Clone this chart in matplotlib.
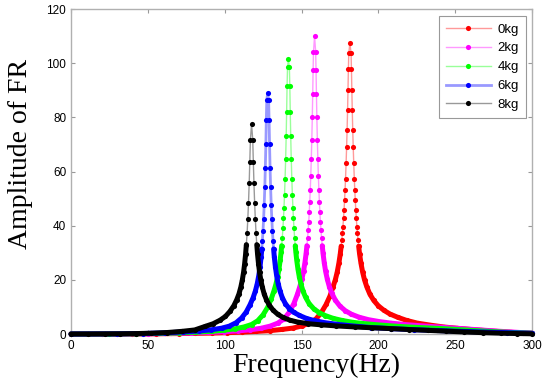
import numpy as np
import matplotlib
matplotlib.use('Agg')
import matplotlib.pyplot as plt
from matplotlib.colors import to_rgb

# --- values (frequency in Hz, amplitude of FR) ---
red_freq = [0, 20, 40, 55, 70, 81, 91.5, 101.5, 111.5, 120.5, 129.5, 137.5, 144.5, 150.5, 155.5, 159.5,
            163, 166, 168.5,
            170.5, 172.0, 173.2, 174.3, 175.2, 175.8, 176.22, 176.62, 176.96, 177.34, 177.68, 178.03,
            178.32, 178.65, 179.01, 179.35, 179.66, 179.98, 180.25, 180.5, 180.75,
            181.5,
            182.25, 182.5, 182.75, 183.02, 183.34, 183.65, 183.99, 184.35, 184.68, 184.97, 185.32,
            185.66, 186.04, 186.38, 186.78, 187.2, 187.8, 188.7, 189.8, 191.0, 192.5,
            194.5, 197, 200, 203.5, 207.5, 212.5, 218.5, 225.5, 233.5, 242.5, 251.5, 261.5, 271.5,
            281.5, 290, 300]
red_amp = [0.0, 0.01, 0.04, 0.08, 0.16, 0.25, 0.35, 0.5, 0.7, 0.95, 1.25, 1.7, 2.2, 3.0, 4.1, 5.6,
           8.0, 10.9, 14.0,
           17.4, 20.0, 22.8, 26.1, 29.5, 32.4, 34.7, 37.2, 39.6, 42.7, 45.8, 49.5,
           53.0, 57.4, 63.0, 69.0, 75.2, 82.7, 90.1, 97.7, 103.6,
           107.5,
           103.6, 97.7, 90.1, 82.7, 75.2, 69.0, 63.0, 57.4, 53.0, 49.5, 45.8,
           42.7, 39.6, 37.2, 34.7, 32.4, 29.5, 26.1, 22.8, 20.0, 17.4,
           14.7, 12.4, 10.4, 8.8, 7.4, 6.2, 5.0, 4.0, 3.3, 2.6, 2.1, 1.6, 1.2,
           0.8, 0.5, 0.25]

mag_freq = [0, 30, 50, 65, 78, 89, 99.5, 108.5, 116.5, 123.5, 129.5, 134.5, 138.5, 142, 145, 147.3,
            148.9, 150.2, 151.3, 152.2, 153.0, 153.5, 153.93, 154.34, 154.7, 155.06, 155.37, 155.69,
            156.03, 156.36, 156.7, 157.02, 157.28, 157.55, 157.78,
            158.5,
            159.22, 159.45, 159.72, 159.98, 160.3, 160.64, 160.97, 161.31, 161.63, 161.94, 162.3,
            162.66, 163.07, 163.5, 164.0, 164.8, 165.7, 166.8, 168.1,
            169.7, 172, 175, 178.5, 182.5, 187.5, 193.5, 200.5, 208.5, 217.5, 226.5, 236.5, 246.5,
            256.5, 266.5, 276.5, 286.5, 294, 300]
mag_amp = [0.0, 0.03, 0.1, 0.22, 0.4, 0.6, 0.85, 1.15, 1.55, 2.1, 2.9, 4.0, 5.5, 8.0, 11.2, 14.6,
           17.5, 20.2, 23.1, 26.3, 29.8, 32.6, 35.3, 38.4, 41.5, 45.2, 48.8, 53.1,
           58.4, 64.5, 71.8, 80.0, 88.5, 97.4, 104.0,
           110.0,
           104.0, 97.4, 88.5, 80.0, 71.8, 64.5, 58.4, 53.1, 48.8, 45.2, 41.5,
           38.4, 35.3, 32.6, 29.8, 26.3, 23.1, 20.2, 17.5,
           15.1, 12.5, 10.3, 8.6, 7.3, 6.2, 5.3, 4.6, 4.0, 3.5, 3.1, 2.7, 2.3,
           1.9, 1.5, 1.1, 0.75, 0.5, 0.35]

grn_freq = [0, 25, 42, 57, 70, 81.5, 91.5, 99.5, 106.5, 112.5, 117.5, 121.5, 125, 128, 130.3,
            132.0, 133.3, 134.4, 135.3, 136.1, 136.7, 137.08, 137.46, 137.9, 138.27, 138.58, 138.95,
            139.31, 139.69, 140.02, 140.32, 140.6, 140.9,
            141.5,
            142.1, 142.4, 142.68, 142.98, 143.31, 143.69, 144.05, 144.42, 144.73, 145.1, 145.54,
            145.92, 146.3, 146.9, 147.7, 148.6, 149.7, 151.0,
            152.7, 155, 158, 161.5, 165.5, 170.5, 176.5, 183.5, 191.5, 201.5, 213.5, 226.5, 241.5,
            256.5, 271.5, 285, 300]
grn_amp = [0.0, 0.02, 0.09, 0.22, 0.42, 0.7, 1.0, 1.4, 1.9, 2.6, 3.5, 4.9, 7.1, 9.9, 13.0,
           15.8, 18.3, 21.0, 23.9, 27.2, 30.3, 32.6, 35.3, 39.0, 42.7, 46.4, 51.4,
           57.4, 64.8, 73.0, 82.0, 91.4, 98.5,
           101.5,
           98.5, 91.4, 82.0, 73.0, 64.8, 57.4, 51.4, 46.4, 42.7, 39.0, 35.3,
           32.6, 30.3, 27.2, 23.9, 21.0, 18.3, 15.8,
           13.5, 11.2, 9.3, 7.9, 6.8, 5.8, 5.0, 4.3, 3.8, 3.3, 2.8, 2.4, 2.0,
           1.5, 1.0, 0.6, 0.3]

blu_freq = [0, 30, 47, 61, 73, 83, 91, 98, 103, 107.5, 111, 114, 116.5,
            118.5, 120.0, 121.2, 122.2, 123.0, 123.7, 124.15, 124.55, 124.95, 125.33, 125.71, 126.11,
            126.45, 126.8, 127.1, 127.4,
            128.0,
            128.6, 128.9, 129.2, 129.55, 129.89, 130.29, 130.67, 131.05, 131.45, 131.85, 132.3,
            133.0, 133.8, 134.8, 136.0, 137.5,
            139.5, 142, 145, 148.5, 153, 158, 165, 173, 183, 195, 208, 223, 238, 253, 268, 284, 300]
blu_amp = [0.0, 0.05, 0.18, 0.42, 0.75, 1.1, 1.55, 2.15, 2.9, 4.2, 5.9, 8.1, 10.8,
           13.4, 15.9, 18.6, 21.6, 24.8, 28.4, 31.4, 34.5, 38.2, 42.5, 47.6, 54.1,
           61.3, 70.1, 79.2, 86.4,
           89.0,
           86.4, 79.2, 70.1, 61.3, 54.1, 47.6, 42.5, 38.2, 34.5, 31.4, 28.4,
           24.8, 21.6, 18.6, 15.9, 13.4,
           11.2, 9.4, 8.0, 6.9, 5.8, 5.0, 4.2, 3.6, 3.0, 2.4, 2.0, 1.6, 1.3, 1.0, 0.75, 0.5, 0.25]

blk_freq = [0, 11, 22, 32, 42, 52, 62.5, 72.5, 80.5, 87.5, 92.5, 97, 100.5, 103.5, 106,
            107.8, 109.3, 110.5, 111.5, 112.3, 113.0, 113.6, 114.1, 114.58, 115.06, 115.5, 115.95,
            116.35, 116.75,
            117.5,
            118.25, 118.65, 119.05, 119.5, 119.94, 120.42, 120.9, 121.4, 122.0, 122.7, 123.5,
            124.5, 125.7, 127.2,
            129, 131.5, 134.5, 138, 142.5, 147.5, 154.5, 162.5, 172.5, 185, 196, 208, 220, 232,
            244, 256, 268, 280, 290, 300]
blk_amp = [0.0, 0.01, 0.04, 0.08, 0.16, 0.3, 0.55, 1.0, 1.5, 2.85, 3.8, 5.1, 6.5, 8.4, 10.5,
           12.6, 14.8, 17.3, 20.0, 22.8, 26.0, 29.4, 33.0, 37.2, 42.5, 48.4, 55.6,
           63.6, 71.8,
           77.5,
           71.8, 63.6, 55.6, 48.4, 42.5, 37.2, 33.0, 29.4, 26.0, 22.8, 20.0,
           17.3, 14.8, 12.6,
           10.7, 8.8, 7.3, 6.1, 5.1, 4.4, 3.8, 3.4, 3.0, 2.6, 2.3, 2.0, 1.65, 1.35,
           1.05, 0.75, 0.5, 0.3, 0.18, 0.08]

labels = ['0kg', '2kg', '4kg', '6kg', '8kg']
colors = ['#ff0000', '#ff00ff', '#00ff00', '#0000ff', '#000000']

BAND_MAX = 33.5   # below this the dots merge into a solid band


def draw_series(ax, freq, amp, color, label, thin_lw, z):
    freq = np.asarray(freq, dtype=float)
    amp = np.asarray(amp, dtype=float)
    band = np.where(amp <= BAND_MAX, amp, np.nan)
    ax.plot(freq, band, color=color, lw=3.6, solid_capstyle='round',
            solid_joinstyle='round', clip_on=False, zorder=z)
    ax.plot(freq, amp, color=(*to_rgb(color), 0.4), lw=thin_lw, marker='o', ms=3.7,
            mfc=color, mec=color, mew=0, label=label, clip_on=False, zorder=z + 0.1)


plt.rcParams['font.family'] = ['Liberation Sans', 'DejaVu Sans']

fig = plt.figure(figsize=(5.5, 3.83), dpi=100)
ax = fig.add_axes([0.1291, 0.1279, 0.8382, 0.8486])

all_data = [(red_freq, red_amp), (mag_freq, mag_amp), (grn_freq, grn_amp),
            (blu_freq, blu_amp), (blk_freq, blk_amp)]
thin = [1.0, 1.0, 1.0, 2.0, 1.0]
for i, (f, a) in enumerate(all_data):
    draw_series(ax, f, a, colors[i], labels[i], thin[i], 3 + i * 0.3)

ax.set_xlim(0, 300)
ax.set_ylim(0, 120)
ax.set_xticks(np.arange(0, 301, 50))
ax.set_yticks(np.arange(0, 121, 20))
ax.tick_params(direction='in', length=3, width=0.8, color='#999999', labelsize=8.5,
               top=True, right=True, labelcolor='black')
ax.tick_params(axis='x', pad=4.5)
ax.tick_params(axis='y', pad=3.5)
for s in ax.spines.values():
    s.set_color('#b0b0b0')
    s.set_linewidth(1.0)

ax.set_xlabel('Frequency(Hz)', family=['Liberation Serif'], fontsize=20)
ax.set_ylabel('Amplitude of FR', family=['Liberation Serif'], fontsize=20)
ax.xaxis.set_label_coords(0.531, -0.058)
ax.yaxis.set_label_coords(-0.082, 0.554)

leg = ax.legend(loc='upper right', bbox_to_anchor=(0.987, 0.978), fontsize=9.5, frameon=True,
                fancybox=False, edgecolor='#999999', framealpha=1, handlelength=3.4,
                handletextpad=0.5, labelspacing=0.5, borderpad=0.55, borderaxespad=0,
                numpoints=1)
leg.get_frame().set_linewidth(0.8)

fig.savefig('out.png', dpi=100)
